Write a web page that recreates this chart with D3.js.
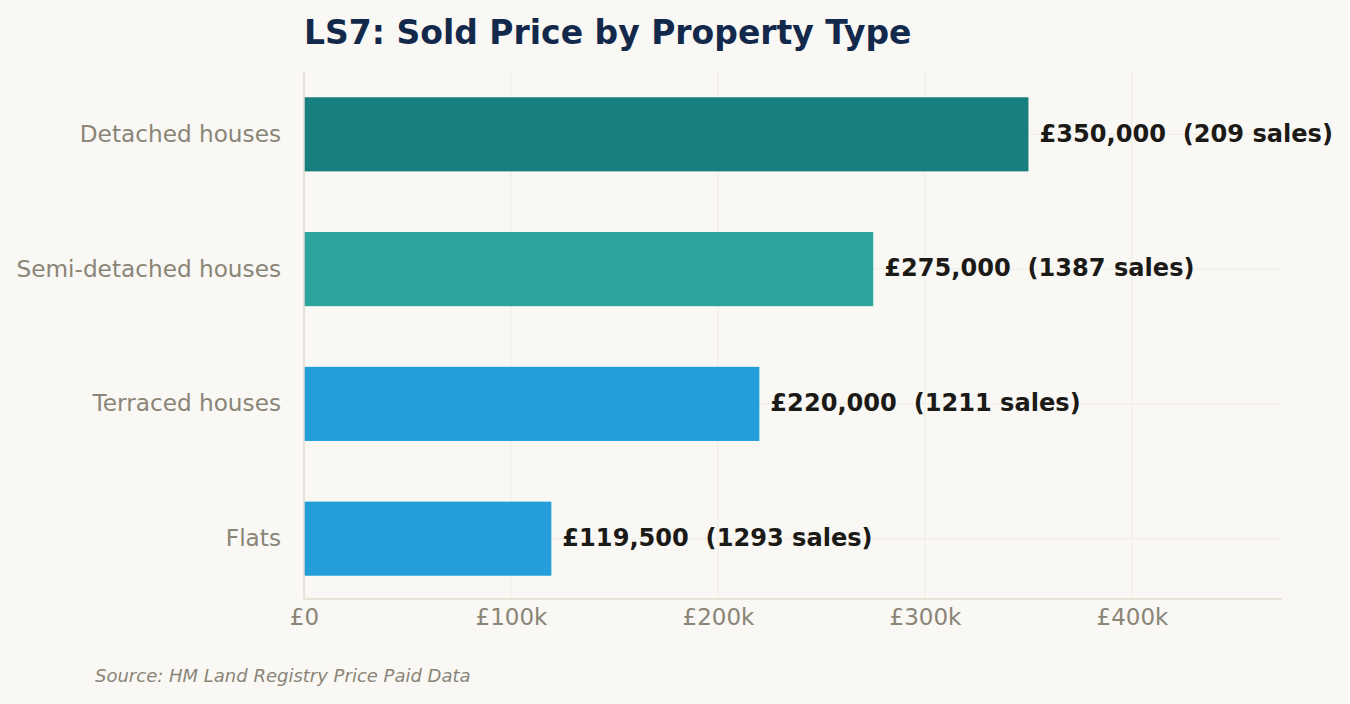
<!DOCTYPE html>
<html>
<head>
<meta charset="utf-8">
<script src="https://cdn.jsdelivr.net/npm/d3@7"></script>
<style>
  html, body { margin: 0; padding: 0; background: #f9f8f4; }
  svg { display: block; font-family: "DejaVu Sans", sans-serif; }
</style>
</head>
<body>
<svg id="chart" width="1350" height="704"></svg>
<script>
// ─── Data ────────────────────────────────────────────────────────────────────
const categories = ['Detached houses', 'Semi-detached houses', 'Terraced houses', 'Flats'];
const prices     = [350000, 275000, 220000, 119500];
const sales      = [209, 1387, 1211, 1293];
const barColors  = ['#17807e', '#2ca59d', '#239ed8', '#239ed8'];
const tickValues = [0, 100000, 200000, 300000, 400000];
const tickLabels = ['£0', '£100k', '£200k', '£300k', '£400k'];

// ─── Layout ──────────────────────────────────────────────────────────────────
const W = 1350, H = 704;
const m = { left: 304, right: 1282, top: 72, bottom: 599 };

const svg = d3.select('#chart');

svg.append('rect').attr('width', W).attr('height', H).attr('fill', '#f9f8f4');

const x = d3.scaleLinear()
  .domain([0, d3.max(prices) * 1.35])
  .range([m.left, m.right]);

const y = d3.scaleBand()
  .domain(categories)
  .range([m.top + 1, m.bottom + 1])
  .paddingInner(0.45)
  .paddingOuter(0.18);

const rows = categories.map((c, i) => ({ cat: c, price: prices[i], n: sales[i], color: barColors[i] }));

// ─── Grid ────────────────────────────────────────────────────────────────────
const grid = svg.append('g').attr('stroke', '#efece5').attr('stroke-width', 1);

grid.selectAll('line.v').data(tickValues).join('line')
  .attr('x1', d => x(d)).attr('x2', d => x(d))
  .attr('y1', m.top).attr('y2', m.bottom);

grid.selectAll('line.h').data(categories).join('line')
  .attr('x1', m.left).attr('x2', m.right)
  .attr('y1', d => y(d) + y.bandwidth() / 2)
  .attr('y2', d => y(d) + y.bandwidth() / 2);

// ─── Bars ────────────────────────────────────────────────────────────────────
svg.append('g').selectAll('rect').data(rows).join('rect')
  .attr('x', x(0))
  .attr('y', d => y(d.cat))
  .attr('width', d => x(d.price) - x(0))
  .attr('height', y.bandwidth())
  .attr('fill', d => d.color);

// value labels
svg.append('g').selectAll('text').data(rows).join('text')
  .attr('x', d => x(d.price) + 11)
  .attr('y', d => y(d.cat) + y.bandwidth() / 2)
  .attr('dy', '0.3em')
  .attr('font-size', 24.1)
  .attr('font-weight', 'bold')
  .attr('fill', '#1c1a17')
  .text(d => `£${d3.format(',')(d.price)}\u00a0\u00a0(${d.n} sales)`);

// ─── Axes ────────────────────────────────────────────────────────────────────
const xAxis = d3.axisBottom(x)
  .tickValues(tickValues)
  .tickFormat((d, i) => tickLabels[i])
  .tickSize(0)
  .tickPadding(10);

const gx = svg.append('g')
  .attr('transform', `translate(0,${m.bottom})`)
  .call(xAxis);
gx.select('.domain').remove();
gx.selectAll('text')
  .attr('font-size', 23)
  .attr('font-family', '"DejaVu Sans", sans-serif')
  .attr('fill', '#8a8577');

const yAxis = d3.axisLeft(y).tickSize(0).tickPadding(23);
const gy = svg.append('g')
  .attr('transform', `translate(${m.left},0)`)
  .call(yAxis);
gy.select('.domain').remove();
gy.selectAll('text')
  .attr('font-size', 23.2)
  .attr('font-family', '"DejaVu Sans", sans-serif')
  .attr('fill', '#8a8577');

// spines
svg.append('line')
  .attr('x1', m.left).attr('x2', m.left)
  .attr('y1', m.top).attr('y2', m.bottom)
  .attr('stroke', '#e2ddd0').attr('stroke-width', 1.5);
svg.append('line')
  .attr('x1', m.left).attr('x2', m.right)
  .attr('y1', m.bottom).attr('y2', m.bottom)
  .attr('stroke', '#e2ddd0').attr('stroke-width', 1.5);

// ─── Title & source ──────────────────────────────────────────────────────────
svg.append('text')
  .attr('x', m.left).attr('y', 44)
  .attr('font-size', 33)
  .attr('font-weight', 'bold')
  .attr('fill', '#13294b')
  .text('LS7: Sold Price by Property Type');

svg.append('text')
  .attr('x', 95).attr('y', 682)
  .attr('font-size', 18)
  .attr('font-style', 'italic')
  .attr('fill', '#8a8577')
  .text('Source: HM Land Registry Price Paid Data');
</script>
</body>
</html>
